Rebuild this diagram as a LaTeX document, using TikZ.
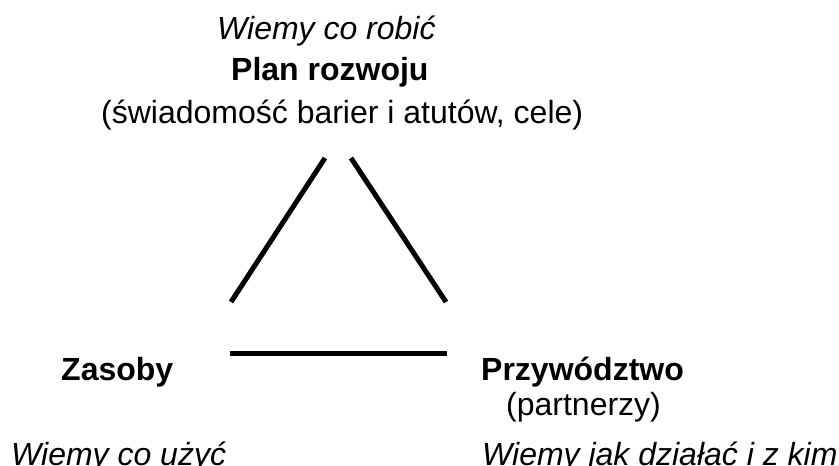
\documentclass[tikz,border=0pt]{standalone}
\usepackage{fontspec}
\setmainfont{Liberation Sans}
\begin{document}
\begin{tikzpicture}
  [x=1pt,y=-1pt,every node/.style={anchor=base west,inner sep=0pt,font=\fontsize{32}{38}\selectfont},
   head/.style={font=\fontsize{32}{38}\selectfont\bfseries},
   note/.style={font=\fontsize{32}{38}\selectfont\itshape}]
  \useasboundingbox (0,0) rectangle (839,466);

  \node[note] (plannote) at (217,39)  {Wiemy co robić};
  \node[head] (plan)     at (231,80)  {Plan rozwoju};
  \node       (plansub)  at (101,123) {(świadomość barier i atutów, cele)};
  \node[head] (zas)      at (61,380)  {Zasoby};
  \node[note] (zasnote)  at (11,465)  {Wiemy co użyć};
  \node[head] (prz)      at (481,380) {Przywództwo};
  \node       (przsub)   at (506,415) {(partnerzy)};
  \node[note] (prznote)  at (482,465) {Wiemy jak działać i z kim};

  \coordinate (t1) at (325,158);
  \coordinate (l1) at (231,302);
  \coordinate (t2) at (351,158);
  \coordinate (r2) at (446,302);
  \coordinate (l3) at (230,353);
  \coordinate (r3) at (447,353);

  \foreach \from/\to in {t1/l1,t2/r2,l3/r3}
    \draw [line width=5pt] (\from) -- (\to);
\end{tikzpicture}
\end{document}
